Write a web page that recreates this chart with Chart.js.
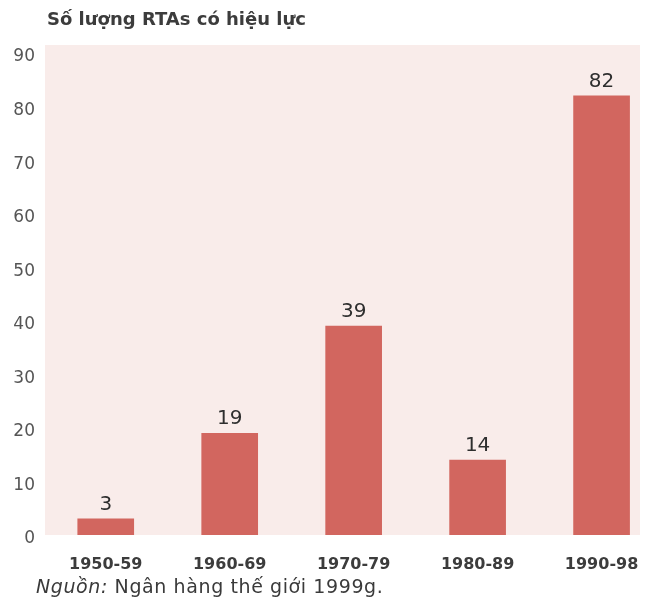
<!DOCTYPE html>
<html lang="vi">
<head>
<meta charset="utf-8">
<script src="https://cdn.jsdelivr.net/npm/chart.js@4/dist/chart.umd.min.js"></script>
<style>
  body { margin: 0; background: #fff; }
  #wrap { position: relative; width: 648px; height: 613px; }
  #tieu-de {
    position: absolute; left: 47px; top: 10px;
    font: bold 18px/18px "DejaVu Sans", sans-serif; color: #3c3c3c;
  }
  #nguon {
    position: absolute; left: 36px; top: 577px; letter-spacing: 0.6px;
    font: 19px/19px "DejaVu Sans", sans-serif; color: #3a3a3a;
  }
</style>
</head>
<body>
<div id="wrap">
  <canvas id="grafico" width="648" height="613"></canvas>
  <div id="tieu-de">Số lượng RTAs có hiệu lực</div>
  <div id="nguon"><i>Nguồn:</i> Ngân hàng thế giới 1999g.</div>
</div>
<script>
const giaiDoan = ['1950-59', '1960-69', '1970-79', '1980-89', '1990-98'];
const soRTA = [3, 19, 39, 14, 82];
const mocTrucY = [0, 10, 20, 30, 40, 50, 60, 70, 80, 90];

// nen hong cho vung bieu do (hoi tran len tren moc 90)
const nenHong = {
  id: 'nenHong',
  beforeDraw(chart) {
    const { ctx, chartArea: a } = chart;
    ctx.save();
    ctx.fillStyle = '#f9ecea';
    ctx.fillRect(a.left, a.top - 8, a.right - a.left, a.bottom - a.top + 8);
    ctx.restore();
  }
};

// so lieu tren dau moi cot
const nhanGiaTri = {
  id: 'nhanGiaTri',
  afterDatasetsDraw(chart) {
    const { ctx } = chart;
    const meta = chart.getDatasetMeta(0);
    ctx.save();
    ctx.font = '20px "DejaVu Sans", sans-serif';
    ctx.fillStyle = '#2e2e2e';
    ctx.textAlign = 'center';
    ctx.textBaseline = 'alphabetic';
    meta.data.forEach((bar, i) => {
      ctx.fillText(String(soRTA[i]), bar.x, bar.y - 9);
    });
    ctx.restore();
  }
};

new Chart(document.getElementById('grafico'), {
  type: 'bar',
  data: {
    datasets: [{
      data: soRTA.map((v, i) => ({ x: i, y: v })),
      backgroundColor: '#d2665f',
      borderWidth: 0,
      barThickness: 56
    }]
  },
  options: {
    responsive: false,
    animation: false,
    layout: { padding: { top: 53, right: 8, bottom: 38, left: 0 } },
    plugins: {
      legend: { display: false },
      tooltip: { enabled: false }
    },
    scales: {
      x: {
        type: 'linear',
        offset: false,
        min: -0.49,
        max: 4.31,
        grid: { display: false },
        border: { display: false },
        afterBuildTicks: (scale) => {
          scale.ticks = giaiDoan.map((_, i) => ({ value: i }));
        },
        afterFit: (scale) => {
          scale.height = 40;
          scale.paddingLeft = 0;
          scale.paddingRight = 0;
        },
        ticks: {
          padding: 12,
          maxRotation: 0,
          autoSkip: false,
          color: '#3c3c3c',
          font: { family: '"DejaVu Sans", sans-serif', size: 16, weight: 'bold' },
          callback: (v) => giaiDoan[v] ?? ''
        }
      },
      y: {
        min: 0,
        max: 90,
        grid: { display: false },
        border: { display: false },
        afterBuildTicks: (scale) => {
          scale.ticks = mocTrucY.map(v => ({ value: v }));
        },
        afterFit: (scale) => { scale.width = 45; },
        ticks: {
          padding: 2,
          labelOffset: 4,
          color: '#555',
          font: { family: '"DejaVu Sans", sans-serif', size: 17 }
        }
      }
    }
  },
  plugins: [nenHong, nhanGiaTri]
});
</script>
</body>
</html>
